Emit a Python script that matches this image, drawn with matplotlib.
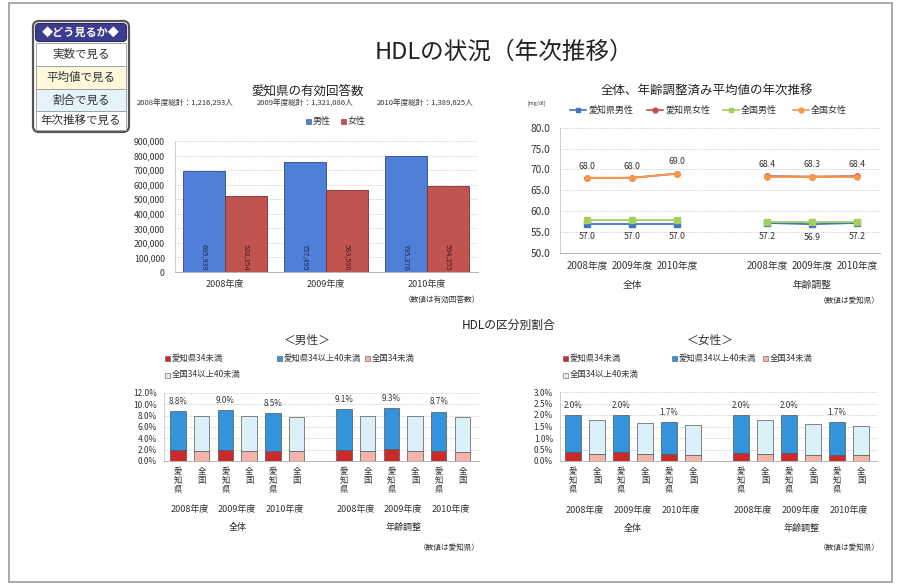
import matplotlib.pyplot as plt
import matplotlib.transforms as mtransforms
from matplotlib.patches import Rectangle, FancyBboxPatch
from matplotlib.lines import Line2D

plt.rcParams['font.family'] = ['Noto Sans CJK JP', 'DejaVu Sans']

W, H = 902, 584

# 愛知県の有効回答数
years = ['2008年度', '2009年度', '2010年度']
male_counts = [695939, 757495, 795370]
female_counts = [520354, 563590, 594255]
count_totals = ['1,216,293', '1,321,086', '1,389,625']

# 平均値の年次推移 (全体3年 + 年齢調整3年)
groups = ['全体', '年齢調整']
aichi_male_avg = [57.0, 57.0, 57.0, 57.2, 56.9, 57.2]
aichi_female_avg = [68.0, 68.0, 69.0, 68.4, 68.3, 68.4]
japan_male_avg = [57.9, 57.9, 57.9, 57.5, 57.5, 57.5]
japan_female_avg = [68.0, 68.0, 69.0, 68.2, 68.2, 68.2]

# 区分別割合 (%)
male_aichi_total = [8.8, 9.0, 8.5, 9.1, 9.3, 8.7]
male_aichi_lt34 = [2.0, 2.0, 1.7, 2.0, 2.1, 1.8]
male_japan_total = [8.0, 7.9, 7.7, 8.0, 8.0, 7.7]
male_japan_lt34 = [1.7, 1.7, 1.7, 1.7, 1.7, 1.6]
female_aichi_total = [2.0, 2.0, 1.7, 2.0, 2.0, 1.7]
female_aichi_lt34 = [0.39, 0.38, 0.29, 0.36, 0.35, 0.28]
female_japan_total = [1.8, 1.65, 1.57, 1.77, 1.62, 1.54]
female_japan_lt34 = [0.32, 0.29, 0.28, 0.30, 0.28, 0.26]

TXT = '#333333'
GRID = dict(ls=':', color='#b8b8b8', lw=0.6)

fig = plt.figure(figsize=(W / 100, H / 100), dpi=100)

# pixel-space background layer for the page frame, menu and free text
bg = fig.add_axes([0, 0, 1, 1])
bg.set_xlim(0, W)
bg.set_ylim(H, 0)
bg.axis('off')


def px_axes(x0, y0, x1, y1):
    return fig.add_axes([x0 / W, 1 - y1 / H, (x1 - x0) / W, (y1 - y0) / H])


def txt(x, y, s, size=6, **kw):
    kw.setdefault('color', TXT)
    kw.setdefault('ha', 'center')
    kw.setdefault('va', 'center')
    bg.text(x, y, s, fontsize=size, **kw)


def style_axes(ax):
    for side in ('top', 'right'):
        ax.spines[side].set_visible(False)
    ax.spines['left'].set_color('#c8c8c8')
    ax.spines['bottom'].set_color('#a8a8a8')
    ax.spines['left'].set_linewidth(0.6)
    ax.spines['bottom'].set_linewidth(0.6)
    ax.yaxis.grid(True, **GRID)
    ax.set_axisbelow(True)
    ax.tick_params(length=0, colors=TXT)
    ax.set_facecolor('none')


# page frame
bg.add_patch(Rectangle((9, 3), 883, 579, fc='white', ec='#9a9a9a', lw=1.2))

# menu box
bg.add_patch(FancyBboxPatch((33, 21), 96, 111, boxstyle='round,pad=0,rounding_size=6',
                            fc='white', ec='#555555', lw=1.6))
bg.add_patch(FancyBboxPatch((35.5, 23.5), 91, 18, boxstyle='round,pad=0,rounding_size=4',
                            fc='#3c3c90', ec='#2a2a60', lw=0.8))
txt(81, 32.5, '◆どう見るか◆', size=8, color='white', weight='bold')
menu_items = ['実数で見る', '平均値で見る', '割合で見る', '年次推移で見る']
menu_fill = ['white', '#fdf8dc', '#e6f3fa', 'white']
row_top = [43, 66, 89, 111]
row_bot = [66, 89, 111, 130]
for label, fill, t, b in zip(menu_items, menu_fill, row_top, row_bot):
    bg.add_patch(Rectangle((36, t), 90, b - t, fc=fill, ec='#9a9a9a', lw=0.6))
    txt(81, (t + b) / 2, label, size=8.3)

# main titles
txt(504, 52, 'HDLの状況（年次推移）', size=17, color='#222222')
txt(509, 325, 'HDLの区分別割合', size=8.5, color='#222222')

# ---- 有効回答数 ----
ax1 = px_axes(174.5, 141, 477.5, 272)
style_axes(ax1)
ax1.set_xlim(-0.5, 2.5)
ax1.set_ylim(0, 900000)
xs = range(len(years))
ax1.bar([x - 0.21 for x in xs], male_counts, 0.42, color='#4f7fd6', ec='#2c4a8a', lw=0.6)
ax1.bar([x + 0.21 for x in xs], female_counts, 0.42, color='#c25450', ec='#7a3030', lw=0.6)
for x, m, f in zip(xs, male_counts, female_counts):
    ax1.text(x - 0.21, 12000, f'{m:,}', rotation=270, ha='center', va='bottom',
             fontsize=5.3, color='#1a2a50')
    ax1.text(x + 0.21, 12000, f'{f:,}', rotation=270, ha='center', va='bottom',
             fontsize=5.3, color='#4a1a1a')
ticks = list(range(0, 900001, 100000))
ax1.set_yticks(ticks, [f'{t:,}' for t in ticks], fontsize=6.3)
ax1.tick_params(axis='y', pad=7)
ax1.set_xticks(list(xs), years, fontsize=6.5)
ax1.tick_params(axis='x', pad=6)

txt(308, 91, '愛知県の有効回答数', size=9, color='#222222')
for x0, y, total in zip([137, 257, 377], years, count_totals):
    txt(x0, 104, f'{y}総計：{total}人', size=5.5, ha='left')
bg.add_patch(Rectangle((306, 119), 5, 5, fc='#4f7fd6', ec='#2c4a8a', lw=0.4))
txt(313, 121.5, '男性', size=6.5, ha='left')
bg.add_patch(Rectangle((341, 119), 5, 5, fc='#c25450', ec='#7a3030', lw=0.4))
txt(348, 121.5, '女性', size=6.5, ha='left')
txt(480, 300, '（数値は有効回答数）', size=5.5, ha='right')

# ---- 平均値の年次推移 ----
ax2 = px_axes(560, 127.7, 879.5, 253)
style_axes(ax2)
ax2.set_xlim(-0.6, 6.5)
ax2.set_ylim(50, 80)
slots = [i + i // 3 for i in range(6)]
series = [
    (aichi_male_avg, '#4472c4', 's', '愛知県男性'),
    (aichi_female_avg, '#c0504d', 'o', '愛知県女性'),
    (japan_male_avg, '#a5cf5a', 's', '全国男性'),
    (japan_female_avg, '#f59a4a', 'o', '全国女性'),
]
for vals, col, mk, name in series:
    for g in range(2):
        sl = slice(3 * g, 3 * g + 3)
        ax2.plot(slots[sl], vals[sl], color=col, marker=mk, ms=3.8, lw=1.3,
                 mec=col, clip_on=False)
for x, v in zip(slots, aichi_female_avg):
    ax2.annotate(f'{v:.1f}', (x, v), xytext=(0, 8.5), textcoords='offset points',
                 ha='center', va='center', fontsize=6.3, color=TXT)
for x, v in zip(slots, aichi_male_avg):
    ax2.annotate(f'{v:.1f}', (x, v), xytext=(0, -9.5), textcoords='offset points',
                 ha='center', va='center', fontsize=6.3, color=TXT)
ax2.set_yticks(range(50, 81, 5), [f'{t:.1f}' for t in range(50, 81, 5)], fontsize=7.3)
ax2.tick_params(axis='y', pad=7)
ax2.set_xticks(slots, years * 2, fontsize=7)
ax2.tick_params(axis='x', pad=6)
tr2 = mtransforms.blended_transform_factory(ax2.transData, ax2.transAxes)
for g, name in enumerate(groups):
    ax2.text(slots[3 * g + 1], -0.255, name, transform=tr2, ha='center', va='center',
             fontsize=7, color=TXT)

txt(707, 91, '全体、年齢調整済み平均値の年次推移', size=9, color='#222222')
txt(537, 103, '[mg/dl]', size=3.8)
for lx, (vals, col, mk, name) in zip([570, 647, 723, 793], series):
    bg.add_line(Line2D([lx, lx + 16], [110, 110], color=col, lw=1.2))
    bg.add_line(Line2D([lx + 8], [110], color=col, marker=mk, ms=3.5))
    txt(lx + 18, 110, name, size=6.5, ha='left')
txt(880, 301, '（数値は愛知県）', size=5.5, ha='right')

# ---- 区分別割合 ----
aichi_lt_col, aichi_mid_col = '#cc2a2a', '#3393dc'
japan_lt_col, japan_mid_col = '#f5b5a8', '#dcf0fa'
edge = '#555555'
pair_pos = [2 * i + i // 3 for i in range(6)]


def ratio_chart(box, xlim, ymax, ystep, aichi_total, aichi_lt, japan_total, japan_lt):
    ax = px_axes(*box)
    style_axes(ax)
    ax.set_xlim(*xlim)
    ax.set_ylim(0, ymax)
    a_x = pair_pos
    j_x = [p + 1 for p in pair_pos]
    bw = 0.65
    ax.bar(a_x, aichi_lt, bw, color=aichi_lt_col, ec=edge, lw=0.5)
    ax.bar(a_x, [t - l for t, l in zip(aichi_total, aichi_lt)], bw, bottom=aichi_lt,
           color=aichi_mid_col, ec=edge, lw=0.5)
    ax.bar(j_x, japan_lt, bw, color=japan_lt_col, ec=edge, lw=0.5)
    ax.bar(j_x, [t - l for t, l in zip(japan_total, japan_lt)], bw, bottom=japan_lt,
           color=japan_mid_col, ec=edge, lw=0.5)
    for x, v in zip(a_x, aichi_total):
        ax.annotate(f'{v:.1f}%', (x, v), xytext=(0, 7), textcoords='offset points',
                    ha='center', va='center', fontsize=5.8, color=TXT)
    yt = [i * ystep for i in range(int(round(ymax / ystep)) + 1)]
    ax.set_yticks(yt, [f'{t:.1f}%' for t in yt], fontsize=6)
    ax.tick_params(axis='y', pad=5)
    ax.set_xticks(a_x + j_x, ['愛\n知\n県'] * 6 + ['全\n国'] * 6, fontsize=6,
                  linespacing=1.05, va='top')
    ax.tick_params(axis='x', pad=4)
    tr = mtransforms.blended_transform_factory(ax.transData, ax.transAxes)
    for i, p in enumerate(pair_pos):
        ax.text(p + 0.5, -0.72, years[i % 3], transform=tr, ha='center', va='center',
                fontsize=6.5, color=TXT)
    for g, name in enumerate(groups):
        ax.text(pair_pos[3 * g + 1] + 0.5, -0.98, name, transform=tr, ha='center',
                va='center', fontsize=6.5, color=TXT)
    return ax


ratio_chart((163.8, 393, 479, 461), (-0.6, 12.7), 12, 2.0,
            male_aichi_total, male_aichi_lt34, male_japan_total, male_japan_lt34)
ratio_chart((560, 392, 876.6, 461), (-0.55, 12.65), 3, 0.5,
            female_aichi_total, female_aichi_lt34, female_japan_total, female_japan_lt34)

legend_items = [
    ('愛知県34未満', aichi_lt_col, 0, 0),
    ('愛知県34以上40未満', aichi_mid_col, 1, 0),
    ('全国34未満', japan_lt_col, 2, 0),
    ('全国34以上40未満', japan_mid_col, 0, 1),
]
for x_cols, title_x in (([165, 277, 365], 307), ([563, 672, 763], 710)):
    txt(title_x, 340, '＜男性＞' if title_x < 500 else '＜女性＞', size=8.5)
    for name, col, c, r in legend_items:
        y = 358 + 17 * r
        bg.add_patch(Rectangle((x_cols[c], y - 2.5), 5, 5, fc=col, ec=edge, lw=0.4))
        txt(x_cols[c] + 7, y, name, size=6, ha='left')
txt(480, 548, '（数値は愛知県）', size=5.5, ha='right')
txt(880, 548, '（数値は愛知県）', size=5.5, ha='right')

fig.savefig('out.png', dpi=100)
